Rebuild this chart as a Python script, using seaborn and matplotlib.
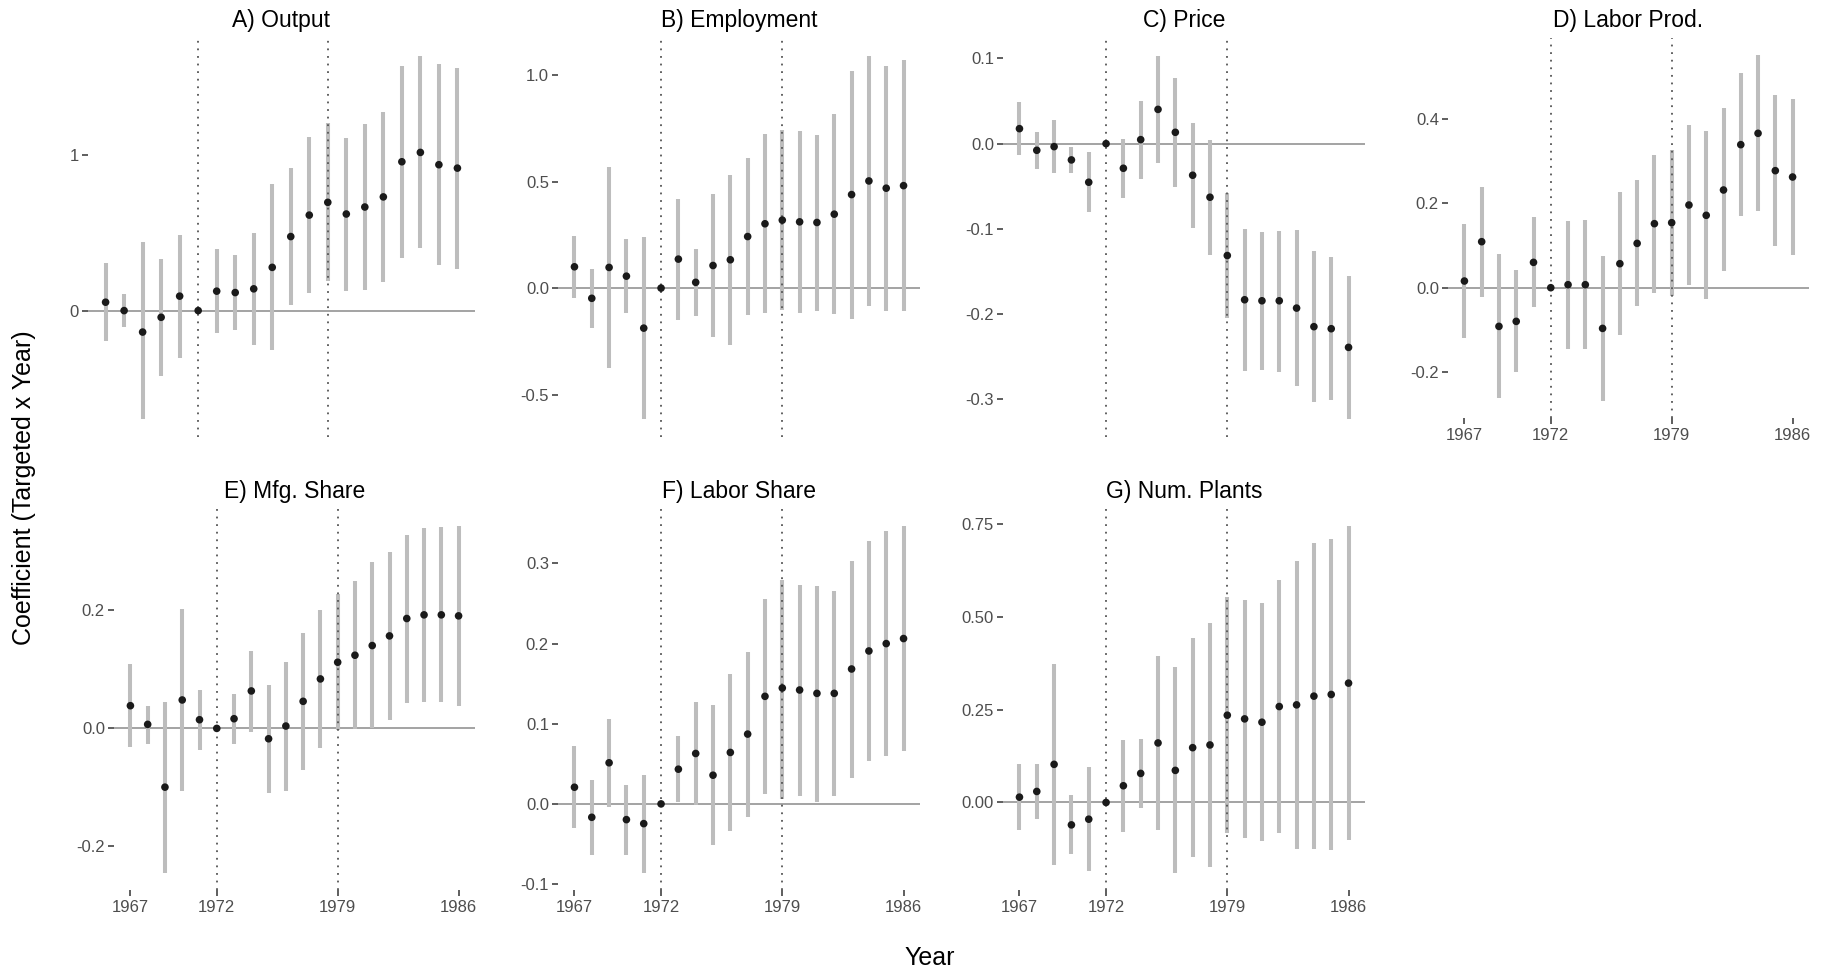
import numpy as np
import pandas as pd
import matplotlib
matplotlib.use("Agg")
import matplotlib.pyplot as plt
import seaborn as sns

# Event-study coefficients (targeted x year), with 95% confidence bounds
years = list(range(1967, 1987))

output_est = [0.054, 0.0, -0.138, -0.043, 0.093, 0.0, 0.125, 0.116, 0.140, 0.278,
              0.476, 0.614, 0.696, 0.621, 0.666, 0.731, 0.957, 1.017, 0.938, 0.916]
output_hi = [0.304, 0.108, 0.440, 0.334, 0.487, 0.0, 0.394, 0.356, 0.498, 0.813,
             0.918, 1.119, 1.205, 1.112, 1.200, 1.280, 1.575, 1.636, 1.584, 1.560]
output_lo = [-0.196, -0.108, -0.696, -0.420, -0.304, 0.0, -0.147, -0.123, -0.222, -0.256,
             0.037, 0.110, 0.188, 0.129, 0.134, 0.181, 0.338, 0.401, 0.291, 0.269]

employment_est = [0.100, -0.048, 0.097, 0.056, -0.188, 0.0, 0.136, 0.027, 0.106, 0.133,
                  0.242, 0.302, 0.319, 0.311, 0.308, 0.347, 0.439, 0.503, 0.469, 0.481]
employment_hi = [0.245, 0.091, 0.569, 0.231, 0.241, 0.0, 0.419, 0.184, 0.441, 0.533,
                 0.613, 0.722, 0.742, 0.738, 0.719, 0.817, 1.020, 1.089, 1.044, 1.070]
employment_lo = [-0.047, -0.189, -0.377, -0.119, -0.614, 0.0, -0.148, -0.131, -0.228, -0.269,
                 -0.128, -0.119, -0.105, -0.119, -0.108, -0.123, -0.145, -0.086, -0.108, -0.109]

price_est = [0.0176, -0.0078, -0.0035, -0.0191, -0.0453, 0.0, -0.0289, 0.0047, 0.0402, 0.0133,
             -0.0371, -0.0629, -0.1313, -0.1832, -0.1844, -0.1844, -0.1930, -0.2148, -0.2172, -0.2391]
price_hi = [0.0484, 0.0141, 0.0277, -0.0043, -0.0102, 0.0, 0.0059, 0.0504, 0.1027, 0.0766,
            0.0246, 0.0039, -0.0582, -0.1000, -0.1035, -0.1020, -0.1008, -0.1258, -0.1336, -0.1551]
price_lo = [-0.0137, -0.0293, -0.0348, -0.0340, -0.0805, 0.0, -0.0641, -0.0410, -0.0223, -0.0504,
            -0.0988, -0.1305, -0.2047, -0.2664, -0.2656, -0.2676, -0.2848, -0.3035, -0.3008, -0.3230]

laborprod_est = [0.0158, 0.1088, -0.0914, -0.0796, 0.0599, 0.0, 0.0071, 0.0071, -0.0962, 0.0568,
                 0.1048, 0.1514, 0.1537, 0.1955, 0.1711, 0.2310, 0.3382, 0.3650, 0.2767, 0.2617]
laborprod_hi = [0.1514, 0.2389, 0.0788, 0.0410, 0.1663, 0.0, 0.1577, 0.1592, 0.0749, 0.2263,
                0.2538, 0.3130, 0.3256, 0.3839, 0.3697, 0.4241, 0.5069, 0.5495, 0.4549, 0.4454]
laborprod_lo = [-0.1190, -0.0221, -0.2617, -0.2002, -0.0465, 0.0, -0.1451, -0.1451, -0.2672, -0.1127,
                -0.0434, -0.0118, -0.0197, 0.0055, -0.0268, 0.0386, 0.1695, 0.1813, 0.0978, 0.0773]

mfgshare_est = [0.0385, 0.0068, -0.0997, 0.0482, 0.0147, 0.0, 0.0164, 0.0635, -0.0176, 0.0040,
                0.0459, 0.0839, 0.1122, 0.1241, 0.1405, 0.1569, 0.1864, 0.1926, 0.1926, 0.1909]
mfgshare_hi = [0.1088, 0.0385, 0.0448, 0.2017, 0.0657, 0.0, 0.0584, 0.1320, 0.0742, 0.1127,
               0.1620, 0.2006, 0.2272, 0.2493, 0.2822, 0.2992, 0.3286, 0.3394, 0.3411, 0.3428]
mfgshare_lo = [-0.0323, -0.0261, -0.2448, -0.1059, -0.0368, 0.0, -0.0266, -0.0057, -0.1099, -0.1054,
               -0.0708, -0.0329, -0.0028, -0.0017, 0.0000, 0.0147, 0.0431, 0.0453, 0.0442, 0.0385]

laborshare_est = [0.0208, -0.0167, 0.0513, -0.0196, -0.0246, 0.0, 0.0433, 0.0629, 0.0358, 0.0642,
                  0.0871, 0.1342, 0.1446, 0.1421, 0.1379, 0.1379, 0.1683, 0.1908, 0.2000, 0.2063]
laborshare_hi = [0.0721, 0.0304, 0.1063, 0.0242, 0.0363, 0.0, 0.0846, 0.1267, 0.1229, 0.1621,
                 0.1896, 0.2554, 0.2796, 0.2733, 0.2721, 0.2654, 0.3033, 0.3275, 0.3404, 0.3463]
laborshare_lo = [-0.0300, -0.0642, -0.0038, -0.0638, -0.0858, 0.0, 0.0021, -0.0008, -0.0517, -0.0342,
                 -0.0163, 0.0125, 0.0058, 0.0104, 0.0029, 0.0104, 0.0329, 0.0533, 0.0596, 0.0658]

plants_est = [0.0144, 0.0297, 0.1028, -0.0604, -0.0451, 0.0, 0.0451, 0.0784, 0.1605, 0.0865,
              0.1478, 0.1551, 0.2353, 0.2254, 0.2164, 0.2587, 0.2632, 0.2867, 0.2912, 0.3218]
plants_hi = [0.1028, 0.1046, 0.3732, 0.0189, 0.0965, 0.0, 0.1695, 0.1713, 0.3957, 0.3651,
             0.4435, 0.4850, 0.5553, 0.5472, 0.5382, 0.6004, 0.6518, 0.6995, 0.7104, 0.7446]
plants_lo = [-0.0739, -0.0442, -0.1677, -0.1388, -0.1857, 0.0, -0.0784, -0.0144, -0.0739, -0.1893,
             -0.1478, -0.1749, -0.0829, -0.0965, -0.1037, -0.0829, -0.1244, -0.1262, -0.1280, -0.1010]

panel_titles = ["A) Output", "B) Employment", "C) Price", "D) Labor Prod.",
                "E) Mfg. Share", "F) Labor Share", "G) Num. Plants"]
estimates = [output_est, employment_est, price_est, laborprod_est,
             mfgshare_est, laborshare_est, plants_est]
upper = [output_hi, employment_hi, price_hi, laborprod_hi,
         mfgshare_hi, laborshare_hi, plants_hi]
lower = [output_lo, employment_lo, price_lo, laborprod_lo,
         mfgshare_lo, laborshare_lo, plants_lo]

y_ticks = [[0, 1], [-0.5, 0.0, 0.5, 1.0], [-0.3, -0.2, -0.1, 0.0, 0.1],
           [-0.2, 0.0, 0.2, 0.4], [-0.2, 0.0, 0.2], [-0.1, 0.0, 0.1, 0.2, 0.3],
           [0.0, 0.25, 0.50, 0.75]]
y_fmt = ["{:.0f}", "{:.1f}", "{:.1f}", "{:.1f}", "{:.1f}", "{:.1f}", "{:.2f}"]
x_ticks = [1967, 1972, 1979, 1986]
event_years = [1972, 1979]
show_x = [False, False, False, True, True, True, True]

# Long-format table for plotting
frames = []
for title, est, hi, lo in zip(panel_titles, estimates, upper, lower):
    frames.append(pd.DataFrame({"panel": title, "year": years,
                                "coef": est, "hi": hi, "lo": lo}))
df = pd.concat(frames, ignore_index=True)

sns.set_theme(style="white")
plt.rcParams["font.family"] = ["Liberation Sans", "DejaVu Sans"]

W, H = 1829, 973
fig = plt.figure(figsize=(W / 100, H / 100), dpi=100)

# panel boxes in pixels: left, top, right, bottom
boxes = [(88, 38, 475, 437), (558, 38, 920, 437), (1003, 38, 1365, 437),
         (1448, 38, 1809, 418), (114, 509, 475, 890), (558, 509, 920, 890),
         (1003, 509, 1365, 890)]

for i, title in enumerate(panel_titles):
    l, t, r, b = boxes[i]
    ax = fig.add_axes([l / W, 1 - b / H, (r - l) / W, (b - t) / H])
    d = df[df["panel"] == title]
    bars = d[d["hi"] != d["lo"]]
    ax.vlines(bars["year"], bars["lo"], bars["hi"], color="#bdbdbd",
              linewidth=2.9, zorder=2)
    ax.axhline(0, color="#8a8a8a", linewidth=1.1, zorder=1)
    for ey in event_years:
        ax.axvline(ey, color="#555555", linewidth=1.3, linestyle=(0, (1, 3.2)),
                   zorder=3)
    sns.scatterplot(data=d, x="year", y="coef", ax=ax, color="#1a1a1a",
                    s=30, edgecolor="none", zorder=4, legend=False)
    lo_all = min(d["lo"].min(), d["coef"].min())
    hi_all = max(d["hi"].max(), d["coef"].max())
    span = hi_all - lo_all
    ax.set_ylim(lo_all - 0.05 * span, hi_all + 0.05 * span)
    ax.set_xlim(1967 - 0.05 * 19, 1986 + 0.05 * 19)
    ax.set_yticks(y_ticks[i])
    ax.set_yticklabels([y_fmt[i].format(v) for v in y_ticks[i]])
    if show_x[i]:
        ax.set_xticks(x_ticks)
        ax.set_xticklabels([str(v) for v in x_ticks])
        ax.tick_params(axis="x", bottom=True, length=4, width=1.1,
                       color="#333333", pad=3, labelsize=12, labelcolor="#4d4d4d")
    else:
        ax.set_xticks([])
    ax.tick_params(axis="y", left=True, length=4, width=1.1, color="#333333",
                   pad=2.5, labelsize=12, labelcolor="#4d4d4d")
    ax.set_xlabel("")
    ax.set_ylabel("")
    for sp in ax.spines.values():
        sp.set_visible(False)
    ax.set_facecolor("white")
    ax.set_title(title, fontsize=16.5, color="black", pad=8)

fig.text(24 / W, 1 - 488 / H, "Coefficient (Targeted x Year)", rotation=90,
         ha="center", va="center", fontsize=18, color="black")
fig.text(930 / W, 1 - 958 / H, "Year", ha="center", va="center",
         fontsize=18, color="black")

fig.savefig("out.png", dpi=100, facecolor="white")
